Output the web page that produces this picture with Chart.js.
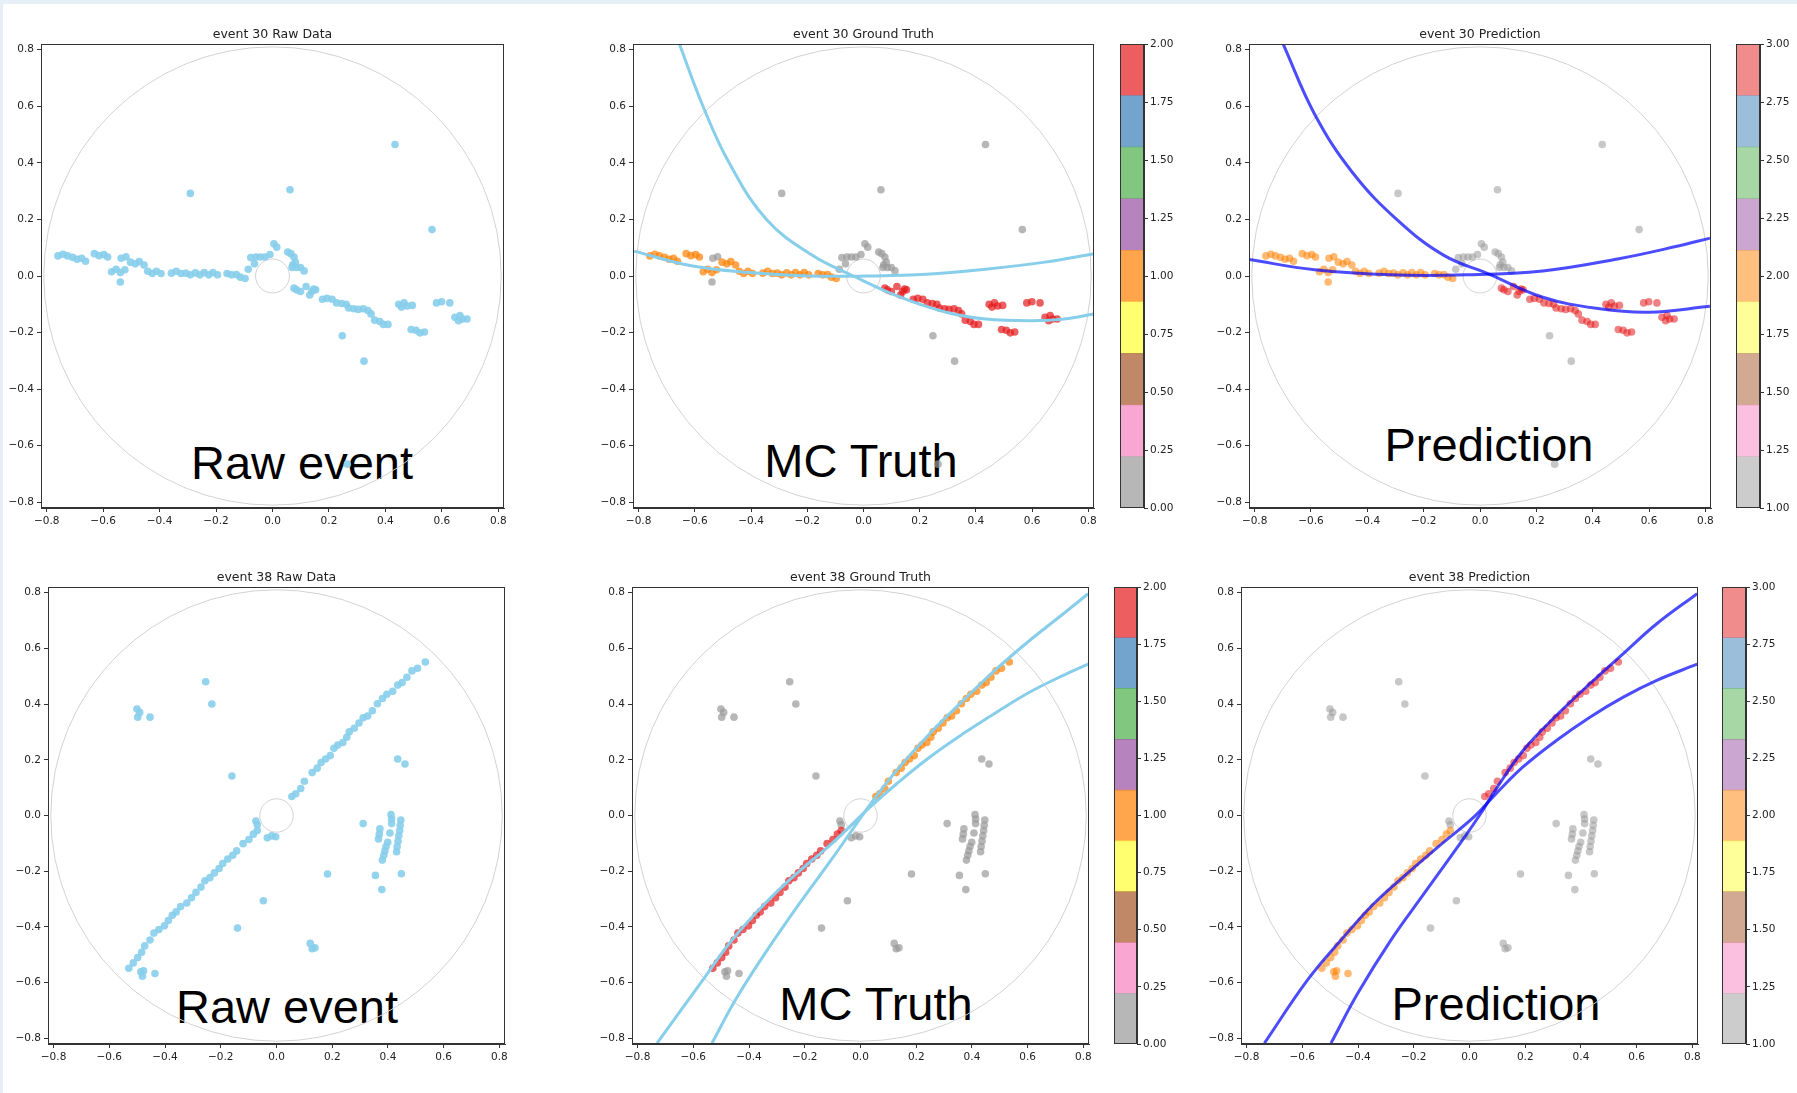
<!DOCTYPE html>
<html>
<head>
<meta charset="utf-8">
<script src="https://cdn.jsdelivr.net/npm/chart.js@4.4.1/dist/chart.umd.min.js"></script>
<style>
html, body { margin: 0; padding: 0; background: #fff; }
body { width: 1797px; height: 1093px; position: relative; overflow: hidden; }
#edgeTop { position: absolute; left: 0; top: 0; width: 1797px; height: 4px; background: #e6eef7; }
#edgeLeft { position: absolute; left: 0; top: 0; width: 3px; height: 1093px; background: #e6eef7; }
.holder { position: absolute; }
.tag { position: absolute; font-family: "Liberation Sans", Arial, sans-serif; font-size: 47px; line-height: 47px;
       color: #000; transform: translateX(-50%); white-space: nowrap; pointer-events: none; }
</style>
</head>
<body>
<div id="edgeTop"></div>
<div id="edgeLeft"></div>

<div class="tag" style="left:302px; top:439px;">Raw event</div>
<div class="tag" style="left:861px; top:437px;">MC Truth</div>
<div class="tag" style="left:1489px; top:421px;">Prediction</div>
<div class="tag" style="left:287px; top:983px;">Raw event</div>
<div class="tag" style="left:876px; top:980px;">MC Truth</div>
<div class="tag" style="left:1496px; top:980px;">Prediction</div>

<script>
// axes
const axisTicks = [-0.8, -0.6, -0.4, -0.2, 0.0, 0.2, 0.4, 0.6, 0.8];
const axisMin = -0.82, axisMax = 0.82;
const detectorRadii = [0.81, 0.06];

// colorbars
const truthBarTicks = [0, 0.25, 0.5, 0.75, 1.0, 1.25, 1.5, 1.75, 2.0];
const predBarTicks = [1.0, 1.25, 1.5, 1.75, 2.0, 2.25, 2.5, 2.75, 3.0];
const truthBarEdges = [0, 0.222, 0.444, 0.667, 0.889, 1.111, 1.333, 1.556, 1.778, 2.0];
const predBarEdges = [1.0, 1.222, 1.444, 1.667, 1.889, 2.111, 2.333, 2.556, 2.778, 3.0];
// Set1 reversed, bottom -> top
const set1Rgb = [[153,153,153],[247,129,191],[166,86,40],[255,255,51],[255,127,0],[152,78,163],[77,175,74],[55,126,184],[228,26,28]];

// hits: [x, y, truth label, predicted label]
const ev30Hits = [
  [-0.760,0.071,1,2],[-0.742,0.077,1,2],[-0.726,0.071,1,2],[-0.708,0.066,1,2],[-0.692,0.059,1,2],
  [-0.676,0.063,1,2],[-0.662,0.052,1,2],[-0.631,0.079,1,2],[-0.614,0.072,1,2],[-0.597,0.076,1,2],
  [-0.584,0.067,1,2],[-0.570,0.015,1,2],[-0.554,0.024,1,2],[-0.539,0.012,1,2],[-0.523,0.022,1,2],
  [-0.503,0.049,1,2],[-0.486,0.043,1,2],[-0.472,0.051,1,2],[-0.455,0.039,1,2],[-0.442,0.017,1,2],
  [-0.426,0.009,1,2],[-0.411,0.017,1,2],[-0.395,0.009,1,2],[-0.358,0.010,1,2],[-0.341,0.017,1,2],
  [-0.324,0.009,1,2],[-0.307,0.010,1,2],[-0.291,0.004,1,2],[-0.273,0.011,1,2],[-0.257,0.004,1,2],
  [-0.242,0.012,1,2],[-0.226,0.004,1,2],[-0.211,0.012,1,2],[-0.195,0.004,1,2],[-0.161,0.009,1,2],
  [-0.145,0.004,1,2],[-0.128,0.005,1,2],[-0.114,-0.004,1,2],[-0.097,-0.009,1,2],
  [-0.536,0.063,0,2],[-0.519,0.068,0,2],[-0.539,-0.021,0,2],
  [-0.086,0.024,0,1],[-0.077,0.065,0,1],[-0.064,0.043,0,1],[-0.059,0.067,0,1],[-0.043,0.067,0,1],
  [-0.027,0.067,0,1],[-0.009,0.076,0,1],[0.005,0.114,0,1],[0.015,0.102,0,1],[0.054,0.085,0,1],
  [0.065,0.079,0,1],[0.076,0.067,0,1],[0.081,0.049,0,1],[0.069,0.030,0,1],[0.085,0.030,0,1],
  [0.099,0.030,0,1],[0.112,0.018,0,1],[0.072,0.040,0,1],
  [0.076,-0.043,2,3],[0.085,-0.049,2,3],[0.099,-0.055,2,3],[0.119,-0.037,2,3],[0.132,-0.067,2,3],
  [0.139,-0.055,2,3],[0.146,-0.046,2,3],[0.153,-0.049,2,3],[0.177,-0.082,2,3],[0.193,-0.079,2,3],
  [0.211,-0.082,2,3],[0.227,-0.095,2,3],[0.245,-0.097,2,3],[0.261,-0.100,2,3],[0.270,-0.113,2,3],
  [0.288,-0.116,2,3],[0.304,-0.118,2,3],[0.322,-0.116,2,3],[0.338,-0.122,2,3],[0.349,-0.134,2,3],
  [0.362,-0.156,2,3],[0.380,-0.161,2,3],[0.393,-0.171,2,3],[0.409,-0.171,2,3],[0.447,-0.100,2,3],
  [0.457,-0.110,2,3],[0.466,-0.095,2,3],[0.477,-0.106,2,3],[0.495,-0.104,2,3],[0.491,-0.189,2,3],
  [0.508,-0.192,2,3],[0.522,-0.201,2,3],[0.538,-0.198,2,3],[0.581,-0.095,2,3],[0.599,-0.091,2,3],
  [0.628,-0.095,2,3],[0.646,-0.146,2,3],[0.659,-0.158,2,3],[0.673,-0.152,2,3],[0.689,-0.152,2,3],
  [0.664,-0.140,2,3],
  [0.434,0.465,0,1],[-0.291,0.292,0,1],[0.062,0.305,0,1],[0.565,0.164,0,1],[0.247,-0.211,0,1],
  [0.324,-0.301,0,1],[0.265,-0.665,0,1]
];

const ev38Hits = [
  [-0.530,-0.548,2,2],[-0.514,-0.529,2,2],[-0.498,-0.510,2,2],[-0.484,-0.491,2,2],[-0.473,-0.468,2,2],
  [-0.454,-0.447,2,2],[-0.440,-0.422,2,2],[-0.422,-0.409,2,2],[-0.402,-0.396,2,2],[-0.388,-0.377,2,2],
  [-0.374,-0.358,2,2],[-0.360,-0.346,2,2],[-0.344,-0.327,2,2],[-0.322,-0.314,2,2],[-0.305,-0.295,2,2],
  [-0.289,-0.276,2,2],[-0.271,-0.257,2,2],[-0.257,-0.234,2,2],[-0.239,-0.223,2,2],[-0.223,-0.206,2,2],
  [-0.206,-0.190,2,2],[-0.193,-0.172,2,2],[-0.175,-0.156,2,2],[-0.157,-0.143,2,2],[-0.143,-0.127,2,2],
  [-0.120,-0.101,2,2],[-0.099,-0.086,2,2],[-0.083,-0.067,2,2],[-0.069,-0.054,2,2],
  [0.055,0.068,1,3],[0.069,0.078,1,3],[0.087,0.097,1,3],[0.100,0.123,1,3],[0.128,0.154,1,3],
  [0.146,0.170,1,3],[0.160,0.190,1,3],[0.176,0.203,1,3],[0.193,0.215,1,3],[0.206,0.241,1,3],
  [0.220,0.253,1,3],[0.238,0.262,1,3],[0.252,0.281,1,3],[0.261,0.300,1,3],[0.279,0.313,1,3],
  [0.296,0.332,1,3],[0.311,0.351,1,3],[0.327,0.357,1,3],[0.344,0.376,1,3],[0.362,0.401,1,3],
  [0.380,0.420,1,3],[0.396,0.435,1,3],[0.417,0.446,1,3],[0.435,0.468,1,3],[0.451,0.477,1,3],
  [0.468,0.496,1,3],[0.486,0.519,1,3],[0.506,0.528,1,3],[0.534,0.551,1,3],
  [-0.074,-0.020,0,1],[-0.069,-0.033,0,1],[-0.033,-0.080,0,1],[-0.017,-0.073,0,1],[-0.003,-0.076,0,1],
  [-0.487,-0.561,0,2],[-0.477,-0.557,0,2],[-0.481,-0.577,0,2],[-0.436,-0.567,0,2],
  [-0.254,0.480,0,1],[-0.232,0.400,0,1],[-0.501,0.382,0,1],[-0.491,0.370,0,1],[-0.498,0.353,0,1],
  [-0.454,0.353,0,1],[-0.160,0.142,0,1],[0.435,0.203,0,1],[0.461,0.185,0,1],[0.311,-0.029,0,1],
  [0.183,-0.210,0,1],[0.355,-0.215,0,1],[0.378,-0.266,0,1],[0.448,-0.209,0,1],[-0.047,-0.306,0,1],
  [-0.140,-0.404,0,1],[0.121,-0.459,0,1],[0.128,-0.478,0,1],[0.138,-0.475,0,1],
  [0.411,0.003,0,1],[0.413,-0.013,0,1],[0.413,-0.029,0,1],[0.407,-0.063,0,1],[0.446,-0.016,0,1],
  [0.444,-0.035,0,1],[0.442,-0.054,0,1],[0.439,-0.073,0,1],[0.436,-0.092,0,1],[0.433,-0.111,0,1],
  [0.431,-0.130,0,1],[0.371,-0.048,0,1],[0.369,-0.067,0,1],[0.366,-0.084,0,1],[0.399,-0.096,0,1],
  [0.393,-0.111,0,1],[0.389,-0.127,0,1],[0.385,-0.143,0,1],[0.380,-0.160,0,1]
];

// fitted tracks, points
const ev30TruthTracks = [
  [[-0.655,0.820],[-0.571,0.600],[-0.478,0.400],[-0.345,0.200],[-0.182,0.073],[-0.036,0.000],
   [0.126,-0.073],[0.294,-0.128],[0.434,-0.152],[0.603,-0.158],[0.715,-0.152],[0.820,-0.134]],
  [[-0.816,0.088],[-0.617,0.037],[-0.406,0.012],[-0.196,0.000],[0.014,0.000],[0.224,0.006],
   [0.434,0.024],[0.645,0.049],[0.820,0.079]]
];
const ev30PredTracks = [
  [[-0.698,0.818],[-0.587,0.572],[-0.452,0.365],[-0.290,0.195],[-0.128,0.073],[0.034,0.006],
   [0.223,-0.075],[0.425,-0.116],[0.601,-0.128],[0.816,-0.107]],
  [[-0.819,0.058],[-0.587,0.022],[-0.317,0.004],[-0.047,0.004],[0.223,0.018],[0.493,0.061],
   [0.695,0.104],[0.816,0.134]]
];
const ev38TruthTracks = [
  [[-0.730,-0.817],[-0.557,-0.578],[-0.461,-0.447],[-0.342,-0.315],[-0.222,-0.202],[-0.102,-0.100],
   [0.034,0.030],[0.130,0.114],[0.249,0.210],[0.369,0.294],[0.489,0.371],[0.608,0.443],
   [0.728,0.503],[0.817,0.543]],
  [[-0.533,-0.817],[-0.449,-0.662],[-0.342,-0.494],[-0.222,-0.320],[-0.102,-0.155],[0.046,0.055],
   [0.130,0.162],[0.249,0.294],[0.369,0.413],[0.489,0.527],[0.608,0.629],[0.728,0.724],[0.817,0.796]]
];
const ev38PredTracks = [
  [[-0.736,-0.817],[-0.581,-0.590],[-0.461,-0.447],[-0.342,-0.315],[-0.222,-0.207],[-0.102,-0.104],
   [0.017,-0.004],[0.092,0.075],[0.193,0.175],[0.313,0.270],[0.432,0.353],[0.552,0.425],
   [0.672,0.485],[0.817,0.543]],
  [[-0.497,-0.817],[-0.401,-0.638],[-0.282,-0.447],[-0.162,-0.279],[-0.042,-0.112],[0.041,0.008],
   [0.092,0.090],[0.193,0.234],[0.313,0.360],[0.432,0.473],[0.552,0.581],[0.672,0.688],[0.817,0.796]]
];

const rgba = (c, a) => `rgba(${c[0]},${c[1]},${c[2]},${a})`;
const fmt1 = v => (v < -1e-9 ? '\u2212' : '') + Math.abs(v).toFixed(1);
const tickFont = { family: 'DejaVu Sans', size: 10.5 };

// box spines
const frame = {
  id: 'frame',
  afterDraw(chart) {
    const { ctx, chartArea: a } = chart;
    ctx.save();
    ctx.strokeStyle = '#333';
    ctx.lineWidth = 1;
    ctx.strokeRect(Math.round(a.left) + 0.5, Math.round(a.top) + 0.5,
                   Math.round(a.right - a.left) - 1, Math.round(a.bottom - a.top) - 1);
    ctx.restore();
  }
};

// detector outline circles
const detector = {
  id: 'detector',
  beforeDatasetsDraw(chart) {
    const { ctx, chartArea: a, scales: { x, y } } = chart;
    const cx = x.getPixelForValue(0), cy = y.getPixelForValue(0);
    ctx.save();
    ctx.beginPath();
    ctx.rect(a.left, a.top, a.right - a.left, a.bottom - a.top);
    ctx.clip();
    ctx.strokeStyle = '#d2d2d2';
    ctx.lineWidth = 1;
    detectorRadii.forEach(r => {
      const rx = x.getPixelForValue(r) - cx, ry = cy - y.getPixelForValue(r);
      ctx.beginPath();
      ctx.ellipse(cx, cy, rx, ry, 0, 0, Math.PI * 2);
      ctx.stroke();
    });
    ctx.restore();
  }
};

function addCanvas(left, top, w, h) {
  const div = document.createElement('div');
  div.className = 'holder';
  div.style.left = left + 'px';
  div.style.top = top + 'px';
  const c = document.createElement('canvas');
  c.width = w; c.height = h;
  c.style.width = w + 'px'; c.style.height = h + 'px';
  div.appendChild(c);
  document.body.appendChild(div);
  return c;
}

function axisOpts(extra) {
  return Object.assign({
    type: 'linear', min: axisMin, max: axisMax,
    afterBuildTicks: s => { s.ticks = axisTicks.map(v => ({ value: v })); },
    grid: { drawOnChartArea: false, tickLength: 4, tickColor: '#333' },
    border: { color: '#333' },
    ticks: { callback: fmt1, color: '#222', font: tickFont, padding: 3, maxRotation: 0, autoSkip: false }
  }, extra);
}

function scatterPanel(box, title, datasets) {
  const YW = 40, XH = 28, PR = 12, TH = 17;
  const c = addCanvas(box.L - YW, box.T - TH, box.R - box.L + YW + PR, box.B - box.T + TH + XH);
  new Chart(c, {
    type: 'scatter',
    data: { datasets },
    options: {
      responsive: false, animation: false, events: [],
      layout: { padding: { top: 0, right: PR, bottom: 0, left: 0 } },
      plugins: {
        legend: { display: false }, tooltip: { enabled: false },
        title: { display: true, fullSize: false, text: title, color: '#222',
                 font: { family: 'DejaVu Sans', size: 12.5, weight: 'normal', lineHeight: 1.2 },
                 padding: { top: 0, bottom: 2 } }
      },
      scales: {
        x: axisOpts({ afterFit: s => { s.height = XH; } }),
        y: axisOpts({ afterFit: s => { s.width = YW; } })
      }
    },
    plugins: [detector, frame]
  });
}

function colorbarPanel(box, edges, ticks, alpha) {
  const AW = 45, PV = 10;
  const c = addCanvas(box.CL, box.T - PV, box.CR - box.CL + AW, box.B - box.T + 2 * PV);
  const datasets = set1Rgb.map((rgb, i) => ({
    data: [[edges[i], edges[i + 1]]],
    backgroundColor: rgba(rgb, alpha),
    borderWidth: 0, barPercentage: 1, categoryPercentage: 1, grouped: false
  }));
  new Chart(c, {
    type: 'bar',
    data: { labels: [''], datasets },
    options: {
      responsive: false, animation: false, events: [],
      layout: { padding: { top: PV, bottom: PV, left: 0, right: 0 } },
      plugins: { legend: { display: false }, tooltip: { enabled: false } },
      scales: {
        x: { display: false },
        y: {
          position: 'right', min: edges[0], max: edges[edges.length - 1],
          afterBuildTicks: s => { s.ticks = ticks.map(v => ({ value: v })); },
          afterFit: s => { s.width = AW; },
          grid: { drawOnChartArea: false, tickLength: 4, tickColor: '#333' },
          border: { color: '#333' },
          ticks: { callback: v => v.toFixed(2), color: '#222', font: tickFont, padding: 2, autoSkip: false }
        }
      }
    },
    plugins: [frame]
  });
}

function rawSets(hits) {
  return [{ data: hits.map(h => ({ x: h[0], y: h[1] })), backgroundColor: 'rgba(135,206,235,0.9)',
            borderWidth: 0, pointRadius: 3.8 }];
}

function labelledSets(hits, tracks, col, vmin, vmax, alpha, lineColor) {
  const sets = tracks.map(t => ({
    data: t.map(p => ({ x: p[0], y: p[1] })), showLine: true, pointRadius: 0,
    borderColor: lineColor, borderWidth: 3, tension: 0.4, fill: false
  }));
  const labels = [...new Set(hits.map(h => h[col]))].sort((a, b) => b - a);
  labels.forEach(lab => {
    const idx = Math.round((lab - vmin) / (vmax - vmin) * 8);
    sets.push({
      data: hits.filter(h => h[col] === lab).map(h => ({ x: h[0], y: h[1] })),
      backgroundColor: rgba(set1Rgb[idx], alpha), borderWidth: 0, pointRadius: 3.8
    });
  });
  return sets;
}

const boxes = [
  { L: 41, R: 504, T: 44, B: 508 },
  { L: 633, R: 1094, T: 44, B: 508, CL: 1120, CR: 1144 },
  { L: 1249, R: 1711, T: 44, B: 508, CL: 1736, CR: 1760 },
  { L: 48, R: 505, T: 587, B: 1044 },
  { L: 632, R: 1089, T: 587, B: 1044, CL: 1114, CR: 1137 },
  { L: 1241, R: 1698, T: 587, B: 1044, CL: 1722, CR: 1746 }
];

const truthLine = '#87ceeb';
const predLine = 'rgba(0,0,255,0.7)';

scatterPanel(boxes[0], 'event 30 Raw Data', rawSets(ev30Hits));
scatterPanel(boxes[1], 'event 30 Ground Truth', labelledSets(ev30Hits, ev30TruthTracks, 2, 0, 2, 0.7, truthLine));
scatterPanel(boxes[2], 'event 30 Prediction', labelledSets(ev30Hits, ev30PredTracks, 3, 1, 3, 0.55, predLine));
scatterPanel(boxes[3], 'event 38 Raw Data', rawSets(ev38Hits));
scatterPanel(boxes[4], 'event 38 Ground Truth', labelledSets(ev38Hits, ev38TruthTracks, 2, 0, 2, 0.7, truthLine));
scatterPanel(boxes[5], 'event 38 Prediction', labelledSets(ev38Hits, ev38PredTracks, 3, 1, 3, 0.55, predLine));

colorbarPanel(boxes[1], truthBarEdges, truthBarTicks, 0.7);
colorbarPanel(boxes[2], predBarEdges, predBarTicks, 0.5);
colorbarPanel(boxes[4], truthBarEdges, truthBarTicks, 0.7);
colorbarPanel(boxes[5], predBarEdges, predBarTicks, 0.5);
</script>
</body>
</html>
